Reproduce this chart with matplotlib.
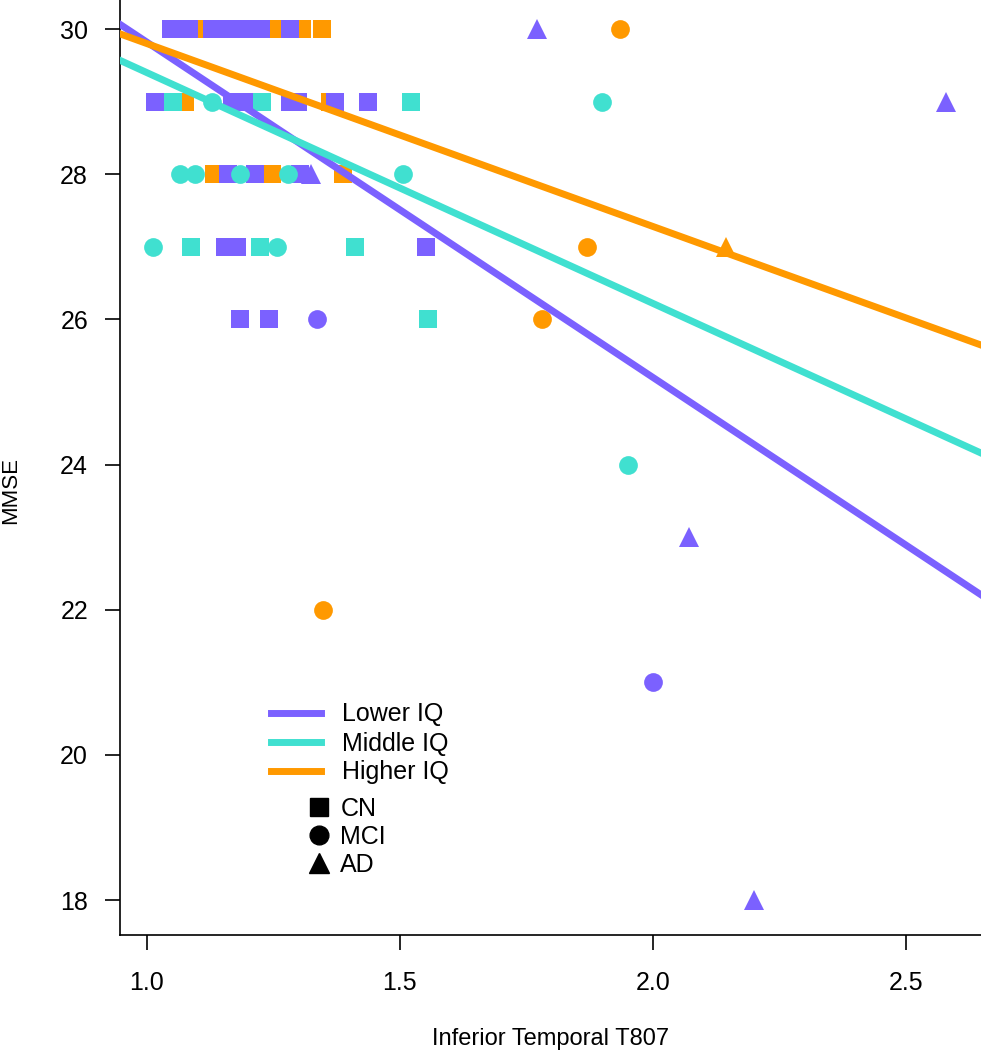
import matplotlib
matplotlib.use('Agg')
import matplotlib.pyplot as plt
from matplotlib.lines import Line2D

plt.rcParams['font.family'] = ['Liberation Sans', 'DejaVu Sans']

# data: x = Inferior Temporal T807, y = MMSE, split by IQ group and diagnosis
# Lower IQ (purple)
low_cn_x = [1.047, 1.083, 1.128, 1.162, 1.194, 1.225, 1.283,
            1.016, 1.168, 1.204, 1.283, 1.298, 1.372, 1.437,
            1.160, 1.213, 1.302,
            1.154, 1.178, 1.551,
            1.184, 1.241]
low_cn_y = [30, 30, 30, 30, 30, 30, 30,
            29, 29, 29, 29, 29, 29, 29,
            28, 28, 28,
            27, 27, 27,
            26, 26]
low_mci_x = [1.336, 2.0]
low_mci_y = [26, 21]
low_ad_x = [1.771, 2.579, 1.324, 2.071, 2.2]
low_ad_y = [30, 29, 28, 23, 18]

# Middle IQ (teal)
mid_cn_x = [1.051, 1.227, 1.522, 1.087, 1.223, 1.411, 1.555]
mid_cn_y = [29, 29, 29, 27, 27, 27, 26]
mid_mci_x = [1.128, 1.899, 1.065, 1.095, 1.184, 1.279, 1.506, 1.012, 1.257, 1.951]
mid_mci_y = [29, 29, 28, 28, 28, 28, 28, 27, 27, 24]
mid_ad_x = []
mid_ad_y = []

# Higher IQ (orange)
high_cn_x = [1.105, 1.255, 1.306, 1.346, 1.075, 1.362, 1.132, 1.247, 1.387]
high_cn_y = [30, 30, 30, 30, 29, 29, 28, 28, 28]
high_mci_x = [1.935, 1.870, 1.781, 1.348]
high_mci_y = [30, 27, 26, 22]
high_ad_x = [2.144]
high_ad_y = [27]

# fitted lines (intercept, slope)
groups = ['Lower IQ', 'Middle IQ', 'Higher IQ']
colors = ['#7B61FF', '#40E0D0', '#FF9900']
intercepts = [34.44, 32.58, 32.32]
slopes = [-4.62, -3.18, -2.52]

diagnoses = ['CN', 'MCI', 'AD']
markers = ['s', 'o', '^']
msizes = [12.5, 13.5, 15]

fig = plt.figure(figsize=(9.81, 10.5), dpi=100)
ax = fig.add_axes([120/981, 1 - 935/1050, 1 - 120/981, 935/1050])

pts = {
    'Lower IQ': [(low_cn_x, low_cn_y), (low_mci_x, low_mci_y), (low_ad_x, low_ad_y)],
    'Middle IQ': [(mid_cn_x, mid_cn_y), (mid_mci_x, mid_mci_y), (mid_ad_x, mid_ad_y)],
    'Higher IQ': [(high_cn_x, high_cn_y), (high_mci_x, high_mci_y), (high_ad_x, high_ad_y)],
}

# draw order: orange, purple, teal
for g in ['Higher IQ', 'Lower IQ', 'Middle IQ']:
    c = colors[groups.index(g)]
    for (xs, ys), m, ms in zip(pts[g], markers, msizes):
        ax.plot(xs, ys, linestyle='none', marker=m, markersize=ms,
                color=c, markeredgewidth=0, zorder=2)

for g, c, b, m in zip(groups, colors, intercepts, slopes):
    ax.axline((0, b), slope=m, color=c, linewidth=5, zorder=3)

ax.set_xlim(0.947, 2.648)
ax.set_ylim(17.52, 30.4)
ax.set_xticks([1.0, 1.5, 2.0, 2.5])
ax.set_xticklabels(['1.0', '1.5', '2.0', '2.5'])
ax.set_yticks([18, 20, 22, 24, 26, 28, 30])

for s in ['top', 'right']:
    ax.spines[s].set_visible(False)
for s in ['left', 'bottom']:
    ax.spines[s].set_linewidth(1.2)
ax.tick_params(axis='both', length=11, width=1.2, labelsize=18)
ax.tick_params(axis='y', pad=12)
ax.tick_params(axis='x', pad=15)

ax.set_ylabel('MMSE', fontsize=16)
ax.yaxis.set_label_coords(-0.115, 0.475)
ax.set_xlabel('Inferior Temporal T807', fontsize=17, labelpad=24)

line_handles = [Line2D([], [], color=c, linewidth=5) for c in colors]
leg1 = ax.legend(line_handles, groups, loc='upper left', frameon=False,
                 bbox_to_anchor=(258/981, 1 - 690/1050), bbox_transform=fig.transFigure,
                 fontsize=18, handlelength=2.0, handletextpad=0.85,
                 labelspacing=0.2, borderpad=0)
ax.add_artist(leg1)

mk_handles = [Line2D([], [], color='black', linestyle='none', marker=m, markersize=ms)
              for m, ms in zip(markers, msizes)]
leg2 = ax.legend(mk_handles, diagnoses, loc='upper left', frameon=False,
                 bbox_to_anchor=(294/981, 1 - 784/1050), bbox_transform=fig.transFigure,
                 fontsize=18, handlelength=1.0, handletextpad=0.35,
                 labelspacing=0.17, borderpad=0)

fig.savefig('out.png', dpi=100)
